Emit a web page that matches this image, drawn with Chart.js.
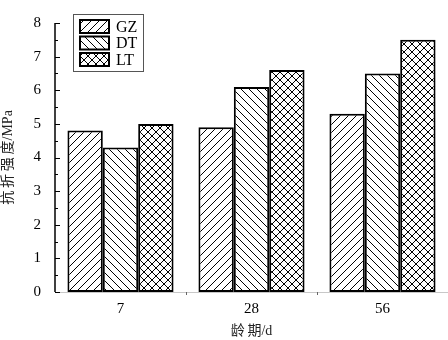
<!DOCTYPE html>
<html>
<head>
<meta charset="utf-8">
<script src="https://cdn.jsdelivr.net/npm/chart.js@4.4.0/dist/chart.umd.min.js"></script>
<style>
  html, body { margin: 0; padding: 0; background: #fff; }
  #wrap { width: 448px; height: 340px; }
</style>
</head>
<body>
<div id="wrap"><canvas id="grafico" width="448" height="340"></canvas></div>
<script>
const categorias = ['7', '28', '56'];
const nomesSeries = ['GZ', 'DT', 'LT'];
const valoresGZ = [4.8, 4.9, 5.3];
const valoresDT = [4.3, 6.1, 6.5];
const valoresLT = [5.0, 6.6, 7.5];
const ticksY = [0, 1, 2, 3, 4, 5, 6, 7, 8];

const fonte = '"Liberation Serif", "Noto Sans CJK SC", serif';

function criaPadrao(tipo) {
    const c = document.createElement('canvas');
    c.width = 8; c.height = 8;
    const g = c.getContext('2d');
    g.fillStyle = '#fff';
    g.fillRect(0, 0, 8, 8);
    g.strokeStyle = '#000';
    g.lineWidth = 1;
    g.beginPath();
    if (tipo === 'barra' || tipo === 'cruz') {
        g.moveTo(-1, 9); g.lineTo(9, -1);
        g.moveTo(-1, 1); g.lineTo(1, -1);
        g.moveTo(7, 9); g.lineTo(9, 7);
    }
    if (tipo === 'contra' || tipo === 'cruz') {
        g.moveTo(-1, -1); g.lineTo(9, 9);
        g.moveTo(7, -1); g.lineTo(9, 1);
        g.moveTo(-1, 7); g.lineTo(1, 9);
    }
    g.stroke();
    return document.getElementById('grafico').getContext('2d').createPattern(c, 'repeat');
}

const padroes = [criaPadrao('barra'), criaPadrao('contra'), criaPadrao('cruz')];

// eixos, ticks internos e legenda desenhados à mão
const extras = {
    id: 'extras',
    afterDraw(chart) {
        const ctx = chart.ctx;
        const area = chart.chartArea;
        const y = chart.scales.y;
        const x = chart.scales.x;
        ctx.save();
        // linha de base cinza
        ctx.strokeStyle = '#c8c8c8';
        ctx.lineWidth = 1;
        ctx.beginPath();
        ctx.moveTo(area.left, area.bottom + 0.5);
        ctx.lineTo(area.right, area.bottom + 0.5);
        ctx.stroke();
        // eixo y
        ctx.strokeStyle = '#000';
        ctx.lineWidth = 1.5;
        ctx.beginPath();
        ctx.moveTo(area.left, area.top);
        ctx.lineTo(area.left, area.bottom);
        ctx.stroke();
        ctx.lineWidth = 1;
        for (let v = 0; v <= 8; v += 0.5) {
            const py = Math.round(y.getPixelForValue(v)) + 0.5;
            const len = Number.isInteger(v) ? 5 : 3;
            ctx.beginPath();
            ctx.moveTo(area.left, py);
            ctx.lineTo(area.left + len, py);
            ctx.stroke();
        }
        // pequenos ticks entre grupos
        ctx.strokeStyle = '#666';
        for (let i = 1; i < categorias.length; i++) {
            const px = Math.round((x.getPixelForValue(i - 1) + x.getPixelForValue(i)) / 2) + 0.5;
            ctx.beginPath();
            ctx.moveTo(px, area.bottom);
            ctx.lineTo(px, area.bottom + 3);
            ctx.stroke();
        }
        // legenda
        ctx.strokeStyle = '#555';
        ctx.lineWidth = 1;
        ctx.strokeRect(73.5, 14.5, 70, 57);
        ctx.font = '16px ' + fonte;
        ctx.textBaseline = 'middle';
        ctx.textAlign = 'left';
        chart.data.datasets.forEach((ds, i) => {
            const topo = 20 + i * 16.5;
            ctx.fillStyle = ds.backgroundColor;
            ctx.fillRect(80, topo, 29, 13);
            ctx.strokeStyle = '#000';
            ctx.lineWidth = 2;
            ctx.strokeRect(80, topo, 29, 13);
            ctx.fillStyle = '#000';
            ctx.fillText(ds.label, 116, topo + 7.5);
        });
        ctx.restore();
    }
};

const series = [valoresGZ, valoresDT, valoresLT];

new Chart(document.getElementById('grafico'), {
    type: 'bar',
    data: {
        labels: categorias,
        datasets: nomesSeries.map((nome, i) => ({
            label: nome,
            data: series[i],
            backgroundColor: padroes[i],
            borderColor: '#000',
            borderWidth: 2,
            borderSkipped: false,
            barPercentage: 1.0,
            categoryPercentage: 0.81
        }))
    },
    options: {
        responsive: false,
        animation: false,
        layout: { padding: { top: 6, right: 0, left: 0, bottom: 0 } },
        plugins: {
            legend: { display: false },
            tooltip: { enabled: false }
        },
        scales: {
            x: {
                grid: { display: false, drawTicks: false },
                border: { display: false },
                ticks: {
                    color: '#000',
                    font: { family: fonte, size: 15 },
                    padding: 8
                },
                title: {
                    display: true,
                    text: '龄\u2009期/d',
                    color: '#222',
                    font: { family: fonte, size: 14 },
                    padding: { top: 6, bottom: 0 }
                },
                afterFit(scale) { scale.height = 48; }
            },
            y: {
                min: 0,
                max: 8,
                afterBuildTicks(scale) {
                    scale.ticks = ticksY.map(v => ({ value: v }));
                },
                grid: { display: false, drawTicks: false },
                border: { display: false },
                ticks: {
                    color: '#000',
                    font: { family: fonte, size: 15 },
                    padding: 14
                },
                title: {
                    display: true,
                    text: '抗\u2009折\u2009强\u2009度/MPa',
                    color: '#222',
                    font: { family: fonte, size: 14 },
                    padding: { top: 0, bottom: 0 }
                },
                afterFit(scale) { scale.width = 55; }
            }
        }
    },
    plugins: [extras]
});
</script>
</body>
</html>
